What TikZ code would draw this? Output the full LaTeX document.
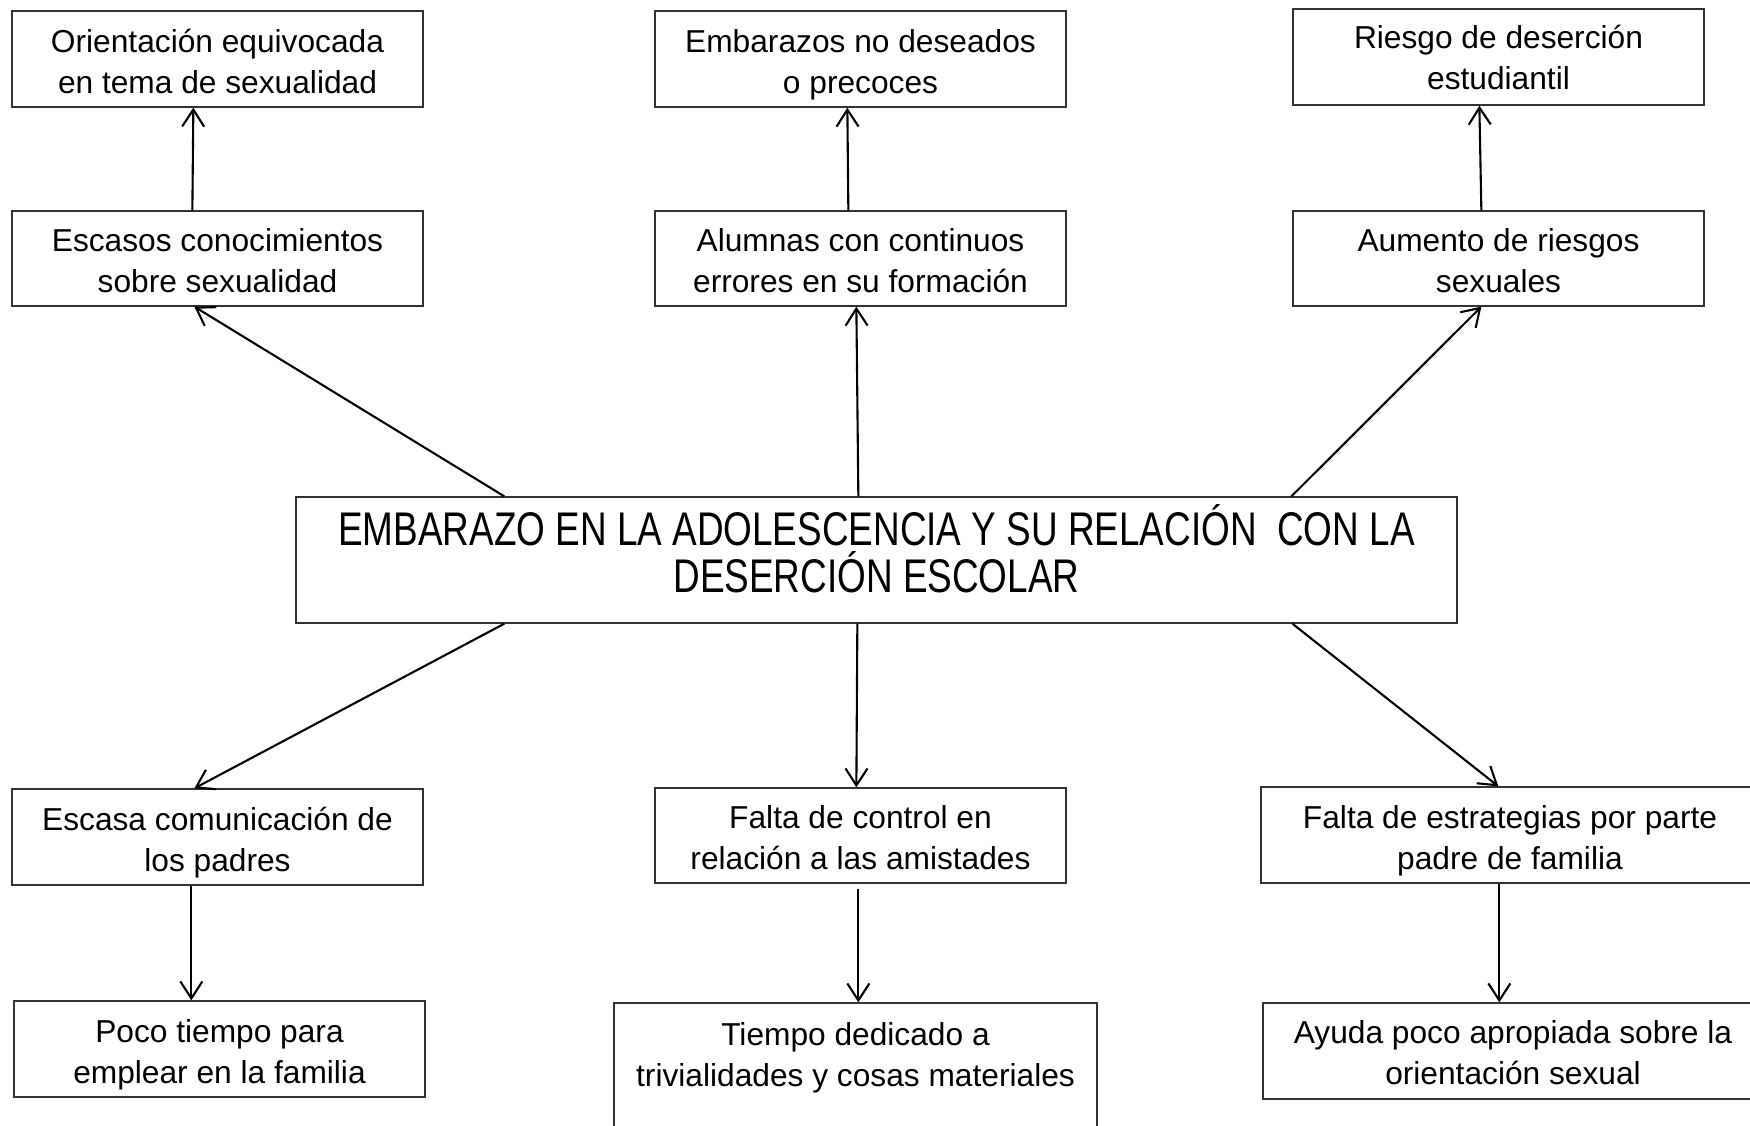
\documentclass[tikz,border=0pt]{standalone}
\usepackage{fontspec}
\usepackage{graphicx}
\setmainfont{Liberation Sans}
\usetikzlibrary{arrows.meta}
\newcommand\lbl{\fontsize{15.85pt}{20.5pt}\selectfont}
\newcommand\ttlfont{\fontsize{18.45pt}{18.36pt}\selectfont}
\newcommand\boxtext[1]{\parbox[t]{250pt}{\centering\lbl #1}}
\begin{document}
\begin{tikzpicture}[x=0.5pt,y=-0.5pt,
  box/.style={draw=black!80, line width=0.65pt, inner sep=0pt, minimum width=205.5pt, minimum height=48pt},
  txt/.style={anchor=base, inner sep=0pt},
  arr/.style={draw=black, line width=1.05pt, -{Straight Barb[length=8.5pt,width=11pt]}}]
\clip (0,0) rectangle (1750,1125);
\fill[white] (0,0) rectangle (1750,1125);
% boxes
\node[box] (a1) at (217.5,59) {};
\node[box, minimum height=47.5pt] (a2) at (217.5,258.5) {};
\node[box] (b1) at (860.5,59) {};
\node[box, minimum height=47.5pt] (b2) at (860.5,258.5) {};
\node[box] (c1) at (1498.5,57) {};
\node[box, minimum height=47.5pt] (c2) at (1498.5,258.5) {};
\node[box, minimum width=580.5pt, minimum height=63pt] (ctr) at (876.5,560) {};
\node[box] (d1) at (217.5,837) {};
\node[box] (d2) at (219.5,1049) {};
\node[box, minimum height=47.5pt] (e1) at (860.5,835.5) {};
\node[box, minimum width=241.5pt, minimum height=70pt] (e2) at (855.5,1073) {};
\node[box, minimum width=249pt] (f1) at (1510,835) {};
\node[box, minimum width=250pt] (f2) at (1513,1051) {};
% texts
\node[txt] (ta1) at (217.5,52) {\boxtext{Orientación equivocada\\en tema de sexualidad}};
\node[txt] (ta2) at (217.5,251) {\boxtext{Escasos conocimientos\\sobre sexualidad}};
\node[txt] (tb1) at (860.5,52) {\boxtext{Embarazos no deseados\\o precoces}};
\node[txt] (tb2) at (860.5,251) {\boxtext{Alumnas con continuos\\errores en su formación}};
\node[txt] (tc1) at (1498.5,48) {\boxtext{Riesgo de deserción\\estudiantil}};
\node[txt] (tc2) at (1498.5,251) {\boxtext{Aumento de riesgos\\sexuales}};
\node[txt] (tctr) at (876.5,545) {\scalebox{1}[1.28]{\parbox[t]{600pt}{\centering\ttlfont EMBARAZO EN LA ADOLESCENCIA Y SU RELACIÓN\ \ CON LA\\DESERCIÓN ESCOLAR}}};
\node[txt] (td1) at (217.5,830) {\boxtext{Escasa comunicación de\\los padres}};
\node[txt] (td2) at (219.5,1042) {\boxtext{Poco tiempo para\\emplear en la familia}};
\node[txt] (te1) at (860.5,828) {\boxtext{Falta de control en\\relación a las amistades}};
\node[txt] (te2) at (855.5,1045) {\boxtext{Tiempo dedicado a\\trivialidades y cosas materiales}};
\node[txt] (tf1) at (1510,828) {\boxtext{Falta de estrategias por parte\\padre de familia}};
\node[txt] (tf2) at (1513,1043) {\boxtext{Ayuda poco apropiada sobre la\\orientación sexual}};
% arrows from centre
\draw[arr] ([xshift=104.5pt]ctr.north west) -- ([xshift=91.5pt]a2.south west);
\draw[arr] ([xshift=281.5pt]ctr.north west) -- ([xshift=101pt]b2.south west);
\draw[arr] ([xshift=498pt]ctr.north west) -- ([xshift=94.5pt]c2.south west);
\draw[arr] ([xshift=104.5pt]ctr.south west) -- ([xshift=91.5pt]d1.north west);
\draw[arr] ([xshift=281pt]ctr.south west) -- ([xshift=101pt]e1.north west);
\draw[arr] ([xshift=498.5pt]ctr.south west) -- ([xshift=119pt]f1.north west);
% vertical arrows
\draw[arr] ([xshift=90.5pt]a2.north west) -- ([xshift=91pt]a1.south west);
\draw[arr] ([xshift=97pt]b2.north west) -- ([xshift=96.5pt]b1.south west);
\draw[arr] ([xshift=94.5pt]c2.north west) -- ([xshift=93.5pt]c1.south west);
\draw[arr] ([xshift=90pt]d1.south west) -- ([xshift=89pt]d2.north west);
\draw[arr, shorten <=2.5pt] ([xshift=102pt]e1.south west) -- ([xshift=122.5pt]e2.north west);
\draw[arr] ([xshift=119.5pt]f1.south west) -- ([xshift=118.5pt]f2.north west);
\end{tikzpicture}
\end{document}
